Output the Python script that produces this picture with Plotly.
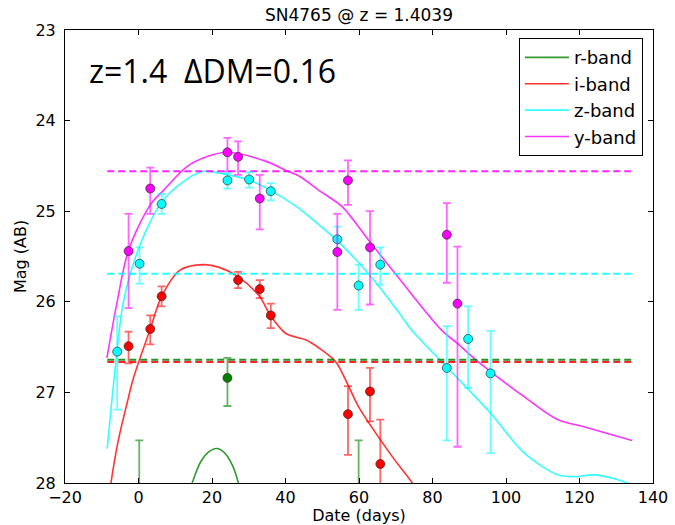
import plotly.graph_objects as go

# ---- photometry (days since peak, AB mag, asymmetric errors) ----
bands = ["r-band", "i-band", "z-band", "y-band"]

days_r = [0.2, 24.2, 59.9]
mag_r = [28.25, 26.84, 28.25]
err_r_bright = [0.72, 0.22, 0.72]
err_r_faint = [0.80, 0.31, 0.80]

days_i = [-2.7, 3.2, 6.3, 27.1, 33.0, 36.0, 57.0, 63.0, 65.8]
mag_i = [26.49, 26.30, 25.94, 25.76, 25.86, 26.15, 27.24, 26.99, 27.79]
err_i_bright = [0.16, 0.15, 0.11, 0.09, 0.10, 0.13, 0.31, 0.26, 0.49]
err_i_faint = [0.19, 0.17, 0.11, 0.09, 0.10, 0.14, 0.45, 0.33, 0.60]

days_z = [-5.8, 0.3, 6.3, 24.2, 30.1, 36.0, 54.1, 59.9, 65.8, 83.9, 89.7, 95.8]
mag_z = [26.55, 25.58, 24.92, 24.66, 24.65, 24.78, 25.31, 25.82, 25.59, 26.73, 26.41, 26.79]
err_z_bright = [0.39, 0.18, 0.11, 0.08, 0.08, 0.09, 0.14, 0.23, 0.19, 0.46, 0.36, 0.47]
err_z_faint = [0.64, 0.22, 0.11, 0.09, 0.09, 0.10, 0.16, 0.27, 0.22, 0.80, 0.54, 0.88]

days_y = [-2.7, 3.2, 24.2, 27.1, 33.0, 54.1, 57.0, 63.0, 83.9, 86.8]
mag_y = [25.44, 24.75, 24.35, 24.40, 24.86, 25.45, 24.66, 25.40, 25.26, 26.02]
err_y_bright = [0.41, 0.23, 0.16, 0.17, 0.26, 0.42, 0.22, 0.40, 0.35, 0.63]
err_y_faint = [0.63, 0.28, 0.21, 0.20, 0.34, 0.64, 0.27, 0.63, 0.53, 1.58]

# ---- fitted template light curves ----
model_day_r = [12.5, 14.6, 17.0, 19.0, 21.3, 23.5, 25.5, 27.2, 28.8]
model_mag_r = [28.3, 28.0, 27.76, 27.66, 27.62, 27.67, 27.80, 28.0, 28.3]

model_day_i = [-8.5, -7.5, -5.5, -3.0, -1.3, 3.2, 6.3, 11.3, 17.6, 22.0, 27.0,
               32.9, 35.9, 40.1, 45.5, 49.1, 53.6, 56.8, 59.9, 65.6, 69.8,
               74.5, 80.0]
model_mag_i = [28.3, 28.0, 27.53, 27.10, 26.83, 26.30, 25.94, 25.65, 25.59,
               25.62, 25.72, 25.94, 26.15, 26.35, 26.42, 26.51, 26.66, 26.90,
               27.16, 27.51, 27.75, 28.0, 28.4]

model_day_z = [-8.5, -6.2, -4.2, -1.4, 2.0, 6.3, 11.3, 17.6, 22.1, 30.2, 35.9,
               43.0, 49.1, 53.9, 62.6, 70.7, 74.3, 83.9, 95.8, 105.0, 114.0,
               118.5, 123.9, 129.3, 134.3]
model_mag_z = [27.62, 26.68, 26.02, 25.58, 25.22, 24.90, 24.70, 24.56, 24.58,
               24.66, 24.77, 24.95, 25.15, 25.32, 25.69, 26.11, 26.31, 26.72,
               27.23, 27.67, 27.91, 27.93, 27.91, 27.95, 28.02]

model_day_y = [-8.6, -5.9, -2.7, 3.2, 6.8, 13.1, 18.5, 24.2, 34.7, 40.1, 44.0,
               49.1, 55.4, 62.6, 69.9, 82.4, 86.8, 92.4, 105.0, 114.0, 121.2,
               134.3]
model_mag_y = [26.62, 26.02, 25.43, 24.93, 24.77, 24.51, 24.40, 24.35, 24.45,
               24.55, 24.62, 24.77, 24.95, 25.32, 25.69, 26.31, 26.46, 26.66,
               27.05, 27.30, 27.38, 27.53]

# ---- detection limits per band ----
limit_span = [-8.5, 134.5]
limit_mag = [26.64, 26.665, 25.69, 24.56]

colors = [(0, 128, 0), (255, 0, 0), (0, 255, 255), (255, 0, 255)]


def rgba(c, a):
    return "rgba(%d,%d,%d,%.2f)" % (c[0], c[1], c[2], a)


phot = [
    (days_r, mag_r, err_r_bright, err_r_faint),
    (days_i, mag_i, err_i_bright, err_i_faint),
    (days_z, mag_z, err_z_bright, err_z_faint),
    (days_y, mag_y, err_y_bright, err_y_faint),
]
models = [
    (model_day_r, model_mag_r),
    (model_day_i, model_mag_i),
    (model_day_z, model_mag_z),
    (model_day_y, model_mag_y),
]

fig = go.Figure()

# template curves (these carry the legend entries)
for name, col, (mx, my) in zip(bands, colors, models):
    fig.add_trace(go.Scatter(
        x=mx, y=my, mode="lines", name=name,
        line=dict(color=rgba(col, 0.8), width=1.6, shape="spline", smoothing=0.9),
    ))

# limiting magnitudes
for col, lvl in zip(colors, limit_mag):
    fig.add_trace(go.Scatter(
        x=limit_span, y=[lvl, lvl], mode="lines", showlegend=False,
        line=dict(color=rgba(col, 0.85), width=2, dash="7px,4px"),
        hoverinfo="skip",
    ))

# measured points with error bars
for name, col, (dx, dy, eb, ef) in zip(bands, colors, phot):
    fig.add_trace(go.Scatter(
        x=dx, y=dy, mode="markers", name=name, showlegend=False,
        marker=dict(color=rgba(col, 1.0), size=9,
                    line=dict(color="rgba(40,40,40,0.85)", width=0.8)),
        error_y=dict(type="data", symmetric=False, array=ef, arrayminus=eb,
                     color=rgba(col, 0.6), thickness=1.8, width=4),
    ))

font_main = "DejaVu Sans, sans-serif"

fig.add_annotation(
    text="z=1.4  \u0394DM=0.16", xref="paper", yref="paper",
    x=0.037, y=0.91, xanchor="left", yanchor="middle", showarrow=False,
    font=dict(family="Open Sans, sans-serif", size=32, color="black"),
)

axis_common = dict(
    showgrid=False, zeroline=False, showline=True, linecolor="black",
    linewidth=1, mirror="ticks", ticks="inside", ticklen=5, tickwidth=1,
    tickcolor="black", tickfont=dict(family=font_main, size=16, color="black"),
    automargin=False,
)

fig.update_layout(
    width=675, height=525,
    margin=dict(l=65, r=22, t=30, b=42),
    plot_bgcolor="white", paper_bgcolor="white",
    title=dict(text="SN4765 @ z = 1.4039", xref="paper", x=0.5, xanchor="center",
               yref="container", y=0.972, yanchor="middle",
               font=dict(family=font_main, size=17, color="black")),
    xaxis=dict(range=[-20, 140], dtick=20, tick0=0, ticklabelstandoff=0,
               title=dict(text="Date (days)", standoff=11,
                          font=dict(family=font_main, size=16, color="black")),
               **axis_common),
    yaxis=dict(range=[28, 23], dtick=1, tick0=23, ticklabelstandoff=5,
               title=dict(text="Mag (AB)", standoff=4,
                          font=dict(family=font_main, size=16, color="black")),
               **axis_common),
    legend=dict(x=0.772, y=0.982, xanchor="left", yanchor="top",
                bgcolor="white", bordercolor="black", borderwidth=1,
                font=dict(family=font_main, size=18, color="black"),
                itemwidth=44, tracegroupgap=0),
    showlegend=True,
)

fig.write_html("out.html")
